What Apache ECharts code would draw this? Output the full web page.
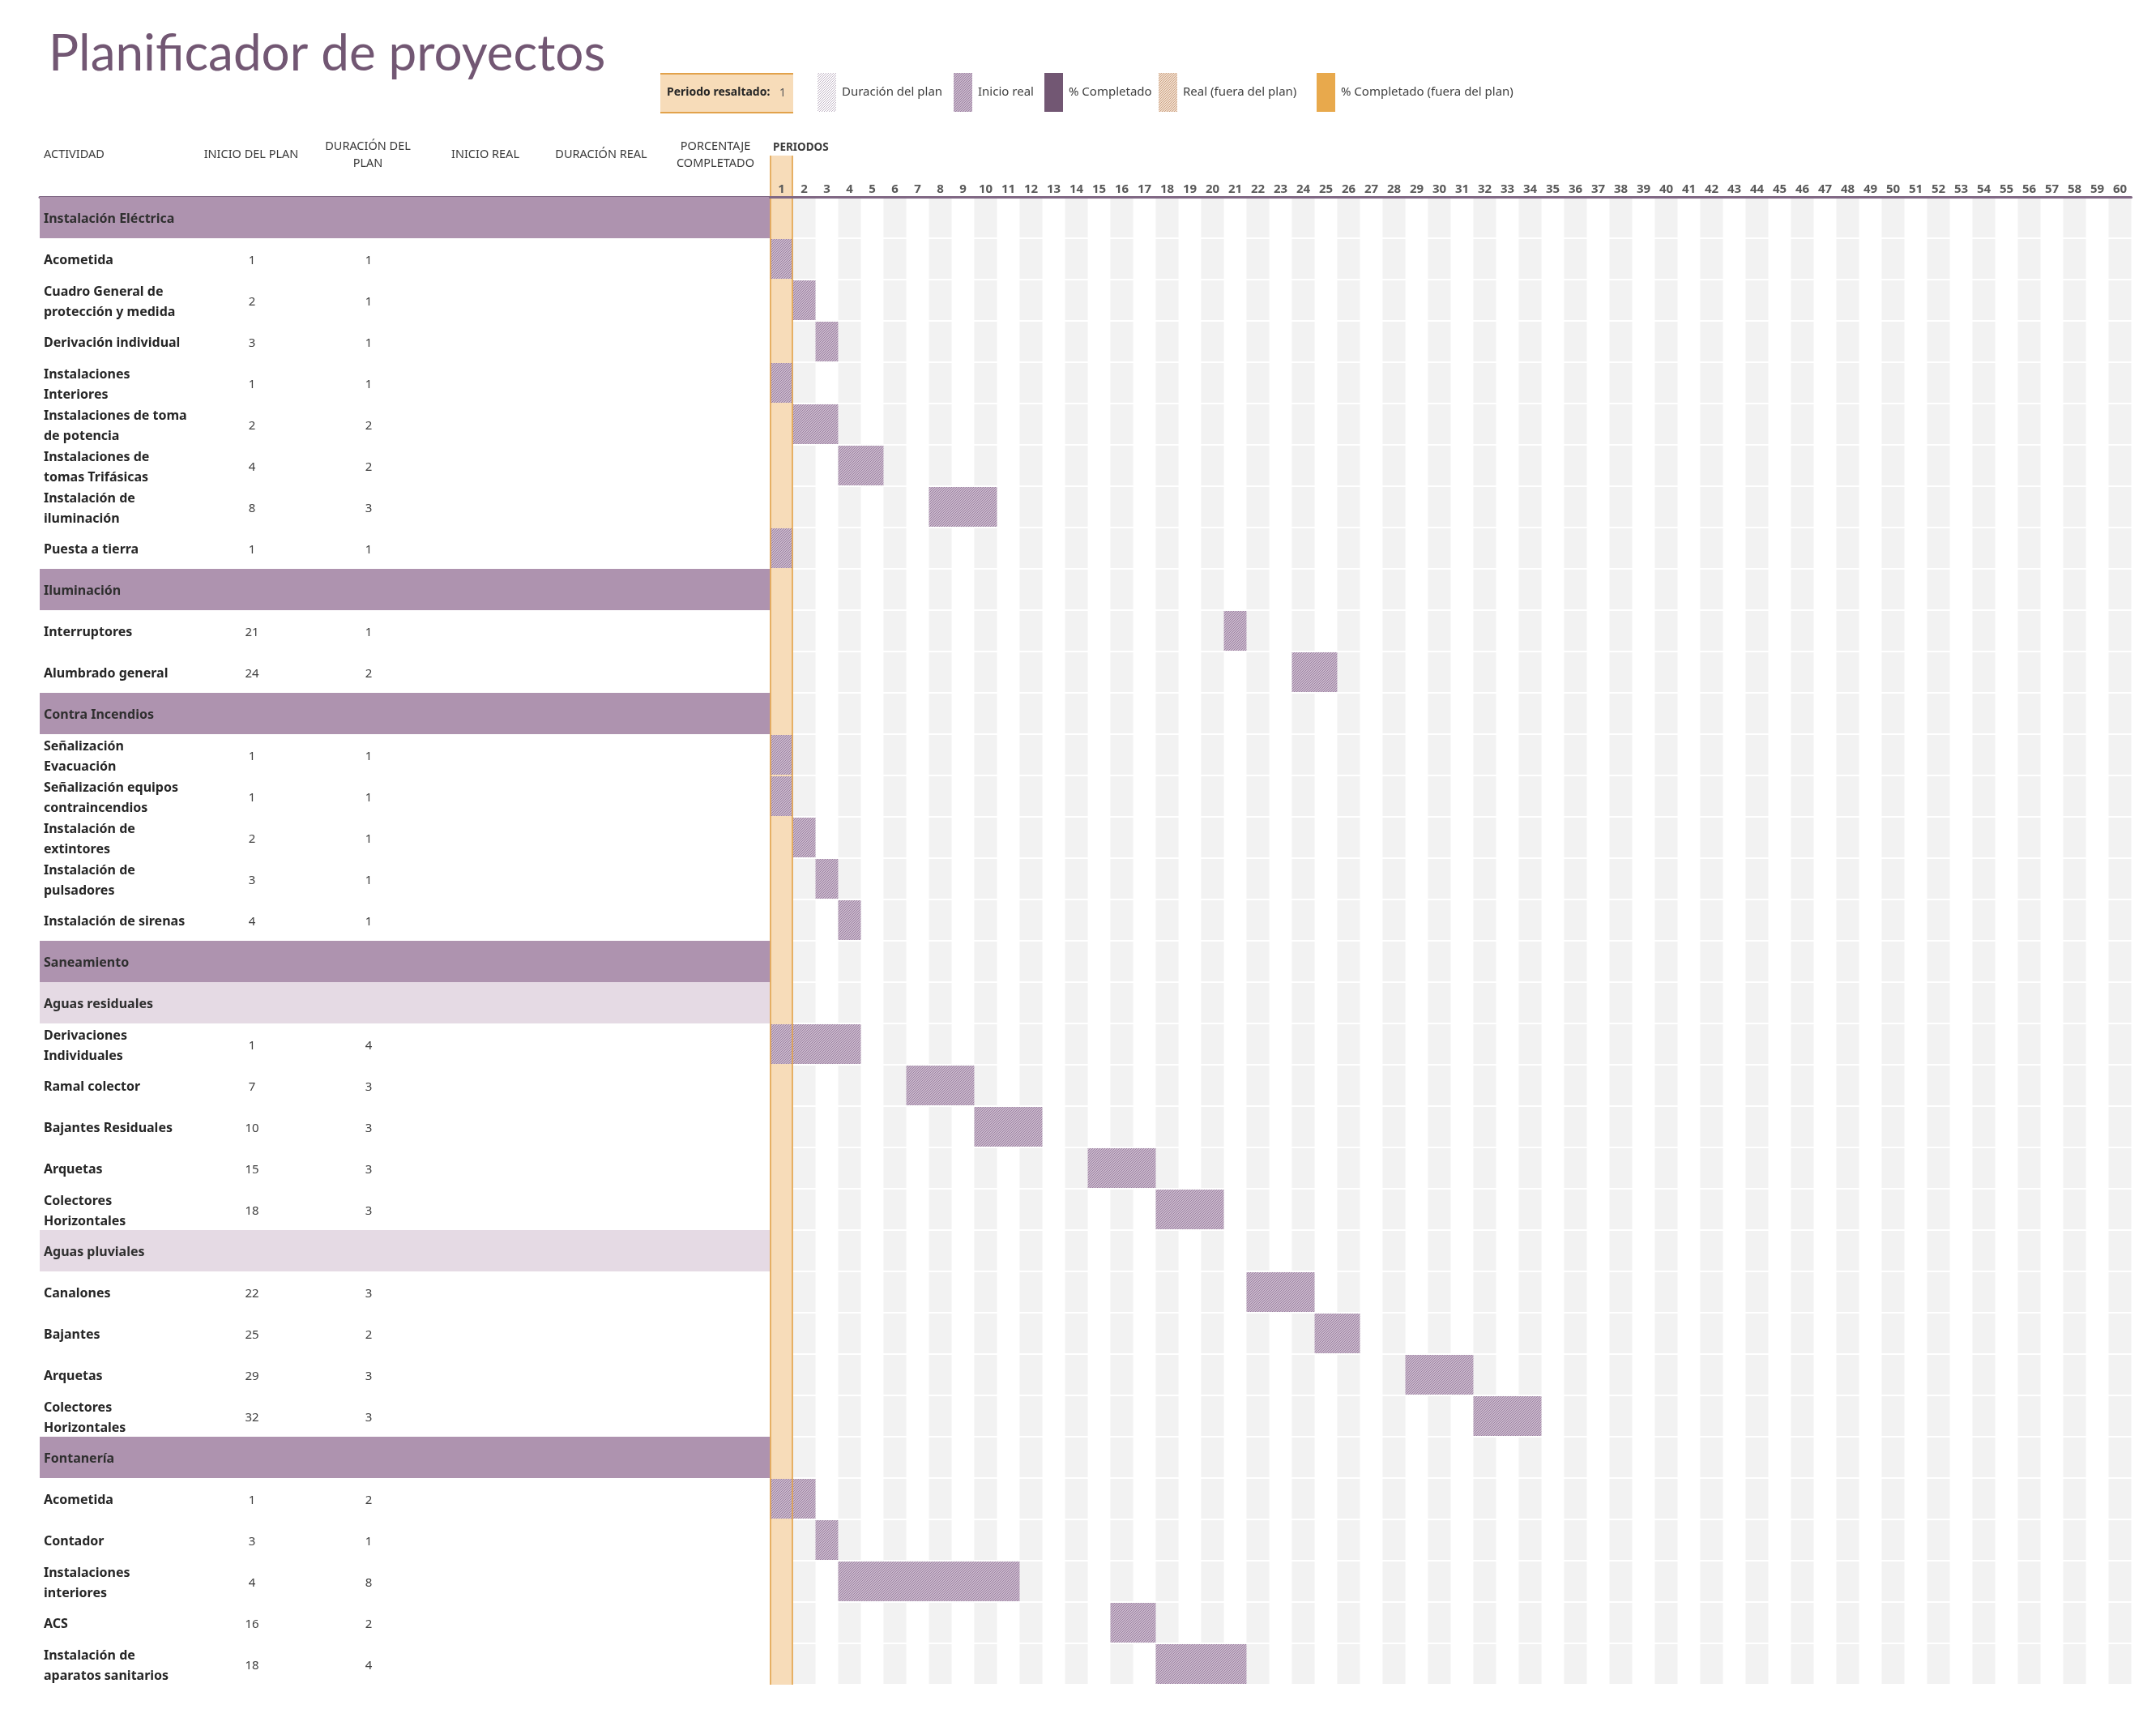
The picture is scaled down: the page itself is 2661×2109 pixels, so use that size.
<!DOCTYPE html>
<html>
<head>
<meta charset="utf-8">
<script src="https://cdn.jsdelivr.net/npm/echarts@6/dist/echarts.min.js"></script>
<style>
html,body{margin:0;padding:0;background:#ffffff;}
#chart{width:2661px;height:2109px;}
</style>
</head>
<body>
<div id="chart"></div>
<script>
// ---------------- DATA ----------------
const titleText = 'Planificador de proyectos';
const highlightLabel = 'Periodo resaltado:';
const highlightPeriod = 1;
const legendNames = ['Duración del plan', 'Inicio real', '% Completado', 'Real (fuera del plan)', '% Completado (fuera del plan)'];
const columnHeaders = ['ACTIVIDAD', 'INICIO DEL PLAN', 'DURACIÓN DEL\nPLAN', 'INICIO REAL', 'DURACIÓN REAL', 'PORCENTAJE\nCOMPLETADO'];
const periodsTitle = 'PERIODOS';
const periods = ['1','2','3','4','5','6','7','8','9','10','11','12','13','14','15','16','17','18','19','20',
  '21','22','23','24','25','26','27','28','29','30','31','32','33','34','35','36','37','38','39','40',
  '41','42','43','44','45','46','47','48','49','50','51','52','53','54','55','56','57','58','59','60'];

const activities = [
  'Instalación Eléctrica',
  'Acometida',
  'Cuadro General de\nprotección y medida',
  'Derivación individual',
  'Instalaciones\nInteriores',
  'Instalaciones de toma\nde potencia',
  'Instalaciones de\ntomas Trifásicas',
  'Instalación de\niluminación',
  'Puesta a tierra',
  'Iluminación',
  'Interruptores',
  'Alumbrado general',
  'Contra Incendios',
  'Señalización\nEvacuación',
  'Señalización equipos\ncontraincendios',
  'Instalación de\nextintores',
  'Instalación de\npulsadores',
  'Instalación de sirenas',
  'Saneamiento',
  'Aguas residuales',
  'Derivaciones\nIndividuales',
  'Ramal colector',
  'Bajantes Residuales',
  'Arquetas',
  'Colectores\nHorizontales',
  'Aguas pluviales',
  'Canalones',
  'Bajantes',
  'Arquetas',
  'Colectores\nHorizontales',
  'Fontanería',
  'Acometida',
  'Contador',
  'Instalaciones\ninteriores',
  'ACS',
  'Instalación de\naparatos sanitarios'
];
// g = group, s = subgroup, t = task
const rowTypes = ['g','t','t','t','t','t','t','t','t','g','t','t','g','t','t','t','t','t','g','s','t','t','t','t','t','s','t','t','t','t','g','t','t','t','t','t'];
const planStart = [null,1,2,3,1,2,4,8,1,null,21,24,null,1,1,2,3,4,null,null,1,7,10,15,18,null,22,25,29,32,null,1,3,4,16,18];
const planDuration = [null,1,1,1,1,2,2,3,1,null,1,2,null,1,1,1,1,1,null,null,4,3,3,3,3,null,3,2,3,3,null,2,1,8,2,4];

// ---------------- STYLE / LAYOUT ----------------
const FONT = '"Noto Sans", "Open Sans", sans-serif';
const C = {
  title: '#725773',
  group: '#AE93AF',
  sub: '#E5DAE4',
  gray: '#F2F2F2',
  peach: '#F7DCB9',
  orange: '#E2A24B',
  axis: '#806884',
  text: '#262626',
  num: '#404040',
  head: '#3A3A3A',
  period: '#595959'
};
const TABLE_LEFT = 49, GANTT_LEFT = 950.5, PERIOD_W = 28, TOP = 243, ROW_H = 51;
const nRows = activities.length;

function hatch(bg, fg, size) {
  const cv = document.createElement('canvas');
  cv.width = size; cv.height = size;
  const g = cv.getContext('2d');
  g.fillStyle = bg; g.fillRect(0, 0, size, size);
  g.fillStyle = fg;
  for (let k = 0; k < size; k++) g.fillRect(k, size - 1 - k, 1, 1);
  return { image: cv, repeat: 'repeat' };
}
const barPattern = hatch('#C9B7CB', '#9A80A0', 3);
const planPattern = hatch('#FFFFFF', '#BFB2C3', 3);
const outPattern = hatch('#F1DDCC', '#C9A184', 3);
const legendFills = [planPattern, barPattern, '#725773', outPattern, '#E8A94C'];
const legendX = [1009, 1177, 1289, 1430, 1625];

// ---------------- RENDERERS ----------------
function rowBounds(api, i) {
  const top = api.coord([0, i])[1];
  const bottom = api.coord([0, i + 1])[1];
  return [top, bottom];
}

function renderTableRow(params, api) {
  const i = api.value(1);
  const cs = params.coordSys;
  const [top, bottom] = rowBounds(api, i);
  const cy = (top + bottom) / 2 + 2;
  const t = rowTypes[i];
  const children = [];
  if (t !== 't') {
    children.push({ type: 'rect', shape: { x: cs.x, y: top, width: cs.width, height: bottom - top },
      style: { fill: t === 'g' ? C.group : C.sub } });
  }
  children.push({ type: 'text', style: { text: activities[i], x: cs.x + 5, y: cy,
    align: 'left', verticalAlign: 'middle', fontFamily: FONT, fontSize: 16, fontWeight: 'bold',
    lineHeight: 25, fill: t === 't' ? C.text : '#2F2F2F' } });
  if (planStart[i] != null) {
    children.push({ type: 'text', style: { text: String(planStart[i]), x: cs.x + 262, y: cy,
      align: 'center', verticalAlign: 'middle', fontFamily: FONT, fontSize: 15, fill: C.num } });
    children.push({ type: 'text', style: { text: String(planDuration[i]), x: cs.x + 406, y: cy,
      align: 'center', verticalAlign: 'middle', fontFamily: FONT, fontSize: 15, fill: C.num } });
  }
  return { type: 'group', children };
}

function renderCell(params, api) {
  const p = api.value(0), i = api.value(1);
  const cx = api.coord([p, i])[0];
  const bw = api.size([1, 0])[0];
  const [top, bottom] = rowBounds(api, i);
  return { type: 'rect', shape: { x: cx - bw / 2, y: top + 1, width: bw, height: bottom - top - 2 },
    style: { fill: C.gray } };
}

function renderBar(params, api) {
  const p = api.value(0), i = api.value(1), d = api.value(2);
  const cx = api.coord([p, i])[0];
  const bw = api.size([1, 0])[0];
  const [top, bottom] = rowBounds(api, i);
  return { type: 'rect', shape: { x: cx - bw / 2, y: top + 1, width: bw * d, height: bottom - top - 2 },
    style: { fill: barPattern } };
}

function renderHighlight(params, api) {
  const p = api.value(0);
  const cx = api.coord([p, 0])[0];
  const bw = api.size([1, 0])[0];
  const top0 = api.coord([p, 0])[1];
  const rh = api.coord([p, 1])[1] - top0;
  const bottom = api.coord([p, nRows])[1];
  return { type: 'rect', shape: { x: cx - bw / 2, y: top0 - rh, width: bw, height: bottom - top0 + rh },
    style: { fill: C.peach } };
}

function renderHighlightBorder(params, api) {
  const p = api.value(0);
  const cx = api.coord([p, 0])[0];
  const bw = api.size([1, 0])[0];
  const top0 = api.coord([p, 0])[1];
  const rh = api.coord([p, 1])[1] - top0;
  const bottom = api.coord([p, nRows])[1];
  const st = { stroke: C.orange, lineWidth: 1.6 };
  return { type: 'group', children: [
    { type: 'line', shape: { x1: cx - bw / 2 + 0.5, y1: top0 - rh, x2: cx - bw / 2 + 0.5, y2: bottom }, style: st },
    { type: 'line', shape: { x1: cx + bw / 2 - 0.5, y1: top0 - rh, x2: cx + bw / 2 - 0.5, y2: bottom }, style: st }
  ] };
}

// ---------------- DATA -> SERIES ----------------
const tableData = activities.map((_, i) => [0, i]);
const cellData = [];
periods.forEach((lab, p) => { if ((p + 1) % 2 === 0) activities.forEach((_, i) => cellData.push([p, i])); });
const barData = [];
activities.forEach((_, i) => { if (planStart[i] != null) barData.push([planStart[i] - 1, i, planDuration[i]]); });

// ---------------- GRAPHIC (title, legend, headers) ----------------
const graphic = [];
graphic.push({ type: 'text', left: 60, top: 36, style: { text: titleText, fontFamily: 'Lato, "Noto Sans", sans-serif',
  fontSize: 62, fill: C.title } });
graphic.push({ type: 'rect', shape: { x: 815, y: 90, width: 164, height: 50 }, style: { fill: C.peach } });
graphic.push({ type: 'line', shape: { x1: 815, y1: 91, x2: 979, y2: 91 }, style: { stroke: C.orange, lineWidth: 2 } });
graphic.push({ type: 'line', shape: { x1: 815, y1: 139, x2: 979, y2: 139 }, style: { stroke: C.orange, lineWidth: 2 } });
graphic.push({ type: 'text', x: 823, y: 114, style: { text: highlightLabel, fontFamily: FONT, fontSize: 14,
  fontWeight: 'bold', fill: '#262626', verticalAlign: 'middle' } });
graphic.push({ type: 'text', x: 966, y: 115, style: { text: String(highlightPeriod), fontFamily: FONT, fontSize: 14,
  fill: '#595959', align: 'center', verticalAlign: 'middle' } });
legendNames.forEach((nm, k) => {
  graphic.push({ type: 'rect', shape: { x: legendX[k], y: 90, width: 23, height: 48 }, style: { fill: legendFills[k] } });
  graphic.push({ type: 'text', x: legendX[k] + 30, y: 114, style: { text: nm, fontFamily: FONT, fontSize: 15,
    fill: '#3F3F3F', verticalAlign: 'middle' } });
});
const headerX = [54, 310, 454, 599, 742, 883];
columnHeaders.forEach((h, k) => {
  graphic.push({ type: 'text', x: headerX[k], y: 191, style: { text: h, fontFamily: FONT, fontSize: 14.5,
    fill: C.head, align: k === 0 ? 'left' : 'center', verticalAlign: 'middle', lineHeight: 21 } });
});
graphic.push({ type: 'text', x: 954, y: 182, style: { text: periodsTitle, fontFamily: FONT, fontSize: 13.5,
  fontWeight: 'bold', fill: C.head, verticalAlign: 'middle' } });

// ---------------- OPTION ----------------
const axisLineStyle = { color: C.axis, width: 3 };
const option = {
  animation: false,
  backgroundColor: '#ffffff',
  graphic: graphic,
  grid: [
    { left: TABLE_LEFT, top: TOP, width: GANTT_LEFT - TABLE_LEFT, height: ROW_H * nRows },
    { left: GANTT_LEFT, top: TOP, width: PERIOD_W * periods.length, height: ROW_H * nRows }
  ],
  xAxis: [
    { gridIndex: 0, type: 'value', min: 0, max: 1, position: 'top',
      axisLine: { show: true, onZero: false, lineStyle: axisLineStyle },
      axisTick: { show: false }, axisLabel: { show: false }, splitLine: { show: false } },
    { gridIndex: 1, type: 'category', data: periods, position: 'top', boundaryGap: true, z: 10,
      axisLine: { show: true, onZero: false, lineStyle: axisLineStyle },
      axisTick: { show: false }, splitLine: { show: false },
      axisLabel: { interval: 0, margin: 2, fontFamily: FONT, fontSize: 15, fontWeight: 'bold', color: C.period } }
  ],
  yAxis: [
    { gridIndex: 0, type: 'value', min: 0, max: nRows, inverse: true, show: false },
    { gridIndex: 1, type: 'value', min: 0, max: nRows, inverse: true, show: false }
  ],
  series: [
    { type: 'custom', name: 'tabla', xAxisIndex: 0, yAxisIndex: 0, z: 2, silent: true, clip: false,
      renderItem: renderTableRow, data: tableData },
    { type: 'custom', name: 'fondo', xAxisIndex: 1, yAxisIndex: 1, z: 1, silent: true,
      renderItem: renderCell, data: cellData },
    { type: 'custom', name: 'Periodo resaltado', xAxisIndex: 1, yAxisIndex: 1, z: 1, silent: true, clip: false,
      renderItem: renderHighlight, data: [[highlightPeriod - 1, 0]] },
    { type: 'custom', name: 'Inicio real', xAxisIndex: 1, yAxisIndex: 1, z: 3, silent: true,
      renderItem: renderBar, data: barData },
    { type: 'custom', name: 'borde', xAxisIndex: 1, yAxisIndex: 1, z: 4, silent: true, clip: false,
      renderItem: renderHighlightBorder, data: [[highlightPeriod - 1, 0]] }
  ]
};

const chart = echarts.init(document.getElementById('chart'), null, { renderer: 'canvas' });
chart.setOption(option);
</script>
</body>
</html>
